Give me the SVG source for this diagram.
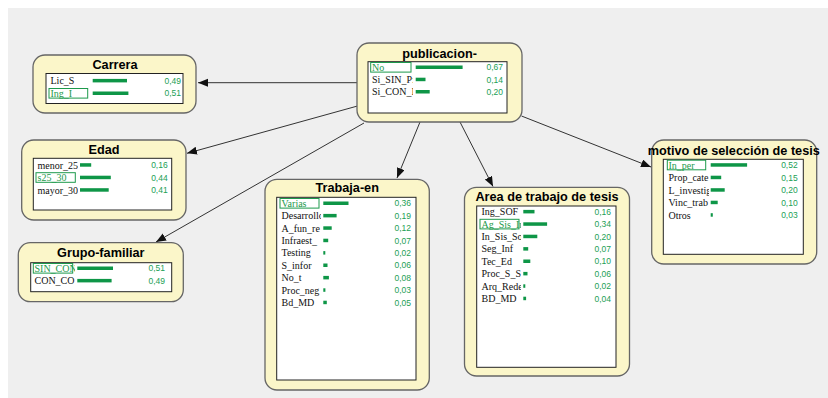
<svg xmlns="http://www.w3.org/2000/svg" width="828" height="398" viewBox="0 0 828 398">
<style>
.node{fill:#fbf6c9;stroke:#666;stroke-width:1.3}
.inner{fill:#fff;stroke:#222;stroke-width:1}
.title{font-family:"Liberation Sans",Arial,sans-serif;font-weight:bold;font-size:12.7px;text-anchor:middle;fill:#000}
.lbl{font-family:"Liberation Serif","Times New Roman",serif;font-size:10px;fill:#111}
.lbl.sel{fill:#1d9a4c}
.selbox{fill:none;stroke:#1d9a4c;stroke-width:1}
.bar{fill:#0e9647}
.val{font-family:"Liberation Sans",Arial,sans-serif;font-size:8.5px;fill:#22a055;text-anchor:end}
.edge{stroke:#333;stroke-width:1;fill:none;marker-end:url(#arr)}
</style>
<defs>
<marker id="arr" markerUnits="userSpaceOnUse" markerWidth="11" markerHeight="9" refX="10" refY="4" orient="auto">
<path d="M0,0 L10,4 L0,8 z" fill="#111"/>
</marker>
<clipPath id="cPub"><rect x="369" y="60" width="44" height="50"/></clipPath>
<clipPath id="cCar"><rect x="47" y="73" width="44" height="30"/></clipPath>
<clipPath id="cEda"><rect x="34" y="158" width="44" height="50"/></clipPath>
<clipPath id="cGru"><rect x="31" y="262" width="44" height="29"/></clipPath>
<clipPath id="cTra"><rect x="278" y="197" width="43" height="180"/></clipPath>
<clipPath id="cAre"><rect x="478" y="206" width="43" height="160"/></clipPath>
<clipPath id="cMot"><rect x="664" y="159" width="45" height="94"/></clipPath>
</defs>
<rect x="0" y="0" width="828" height="398" fill="#fff"/>
<rect x="8" y="8" width="820" height="390" fill="#efefef"/>

<g id="connectors">
<line class="edge" x1="357" y1="82.7" x2="198" y2="82.7"/>
<line class="edge" x1="357.5" y1="106" x2="187" y2="153.3"/>
<line class="edge" x1="364" y1="123" x2="156" y2="242"/>
<line class="edge" x1="420" y1="122" x2="397" y2="178"/>
<line class="edge" x1="460" y1="122" x2="493" y2="186.5"/>
<line class="edge" x1="521.5" y1="116" x2="651" y2="167"/>
</g>

<g id="publicacion">
<rect class="node" x="357" y="43" width="165" height="79" rx="12"/>
<text class="title" x="439.5" y="57.5">publicacion-</text>
<rect class="inner" x="368" y="61.7" width="139" height="51.3"/>
<rect class="selbox" x="370.7" y="62.5" width="40.3" height="9.6"/>
<g clip-path="url(#cPub)">
<text class="lbl sel" x="372" y="70.8">No</text>
<text class="lbl" x="372" y="83">Si_SIN_P:</text>
<text class="lbl" x="372" y="95.3">Si_CON_I</text>
</g>
<rect class="bar" x="415.7" y="65.5" width="46.9" height="3.5"/>
<rect class="bar" x="415.7" y="77.7" width="9.8" height="3.5"/>
<rect class="bar" x="415.7" y="90" width="14" height="3.5"/>
<text class="val" x="503" y="70.3">0,67</text>
<text class="val" x="503" y="82.5">0,14</text>
<text class="val" x="503" y="94.8">0,20</text>
</g>

<g id="carrera">
<rect class="node" x="33" y="55" width="163" height="58" rx="12"/>
<text class="title" x="115" y="68.5">Carrera</text>
<rect class="inner" x="46" y="73.5" width="137" height="30"/>
<rect class="selbox" x="49" y="88.5" width="38.7" height="9.6"/>
<g clip-path="url(#cCar)">
<text class="lbl" x="50.5" y="84.2">Lic_S</text>
<text class="lbl sel" x="50.5" y="96.8">Ing_I</text>
</g>
<rect class="bar" x="92.7" y="78.9" width="34.3" height="3.5"/>
<rect class="bar" x="92.7" y="91.5" width="35.7" height="3.5"/>
<text class="val" x="181" y="83.7">0,49</text>
<text class="val" x="181" y="96.3">0,51</text>
</g>

<g id="edad">
<rect class="node" x="21.7" y="140" width="164.3" height="80" rx="12"/>
<text class="title" x="104" y="153.5">Edad</text>
<rect class="inner" x="33.3" y="158.3" width="138.4" height="51.7"/>
<rect class="selbox" x="36" y="172.7" width="39.3" height="9.6"/>
<g clip-path="url(#cEda)">
<text class="lbl" x="37.5" y="168.5">menor_25</text>
<text class="lbl sel" x="37.5" y="181">s25_30</text>
<text class="lbl" x="37.5" y="193.5">mayor_30</text>
</g>
<rect class="bar" x="80" y="163.2" width="11.2" height="3.5"/>
<rect class="bar" x="80" y="175.7" width="30.8" height="3.5"/>
<rect class="bar" x="80" y="188.2" width="28.7" height="3.5"/>
<text class="val" x="167.7" y="168">0,16</text>
<text class="val" x="167.7" y="180.5">0,44</text>
<text class="val" x="167.7" y="193">0,41</text>
</g>

<g id="grupo-familiar">
<rect class="node" x="18.3" y="242.7" width="165" height="59" rx="12"/>
<text class="title" x="100.8" y="257">Grupo-familiar</text>
<rect class="inner" x="30.7" y="262.7" width="141" height="29"/>
<rect class="selbox" x="33.3" y="263.5" width="39.4" height="9.6"/>
<g clip-path="url(#cGru)">
<text class="lbl sel" x="34.5" y="271.8">SIN_CON</text>
<text class="lbl" x="34.5" y="284.2">CON_CO</text>
</g>
<rect class="bar" x="77.3" y="266.5" width="35.7" height="3.5"/>
<rect class="bar" x="77.3" y="278.9" width="34.3" height="3.5"/>
<text class="val" x="165" y="271.3">0,51</text>
<text class="val" x="165" y="283.7">0,49</text>
</g>

<g id="trabaja-en">
<rect class="node" x="265" y="179.3" width="164.3" height="210.7" rx="12"/>
<text class="title" x="347.2" y="192">Trabaja-en</text>
<rect class="inner" x="276.7" y="197.3" width="139.3" height="182.7"/>
<rect class="selbox" x="280" y="198.5" width="39" height="9.6"/>
<g clip-path="url(#cTra)">
<text class="lbl sel" x="281.5" y="206.8">Varias</text>
<text class="lbl" x="281.5" y="219.2">Desarrollo</text>
<text class="lbl" x="281.5" y="231.6">A_fun_re</text>
<text class="lbl" x="281.5" y="244">Infraest_</text>
<text class="lbl" x="281.5" y="256.4">Testing</text>
<text class="lbl" x="281.5" y="268.8">S_infor</text>
<text class="lbl" x="281.5" y="281.2">No_t</text>
<text class="lbl" x="281.5" y="293.6">Proc_neg</text>
<text class="lbl" x="281.5" y="306">Bd_MD</text>
</g>
<rect class="bar" x="323.3" y="201.5" width="25.2" height="3.5"/>
<rect class="bar" x="323.3" y="213.9" width="13.3" height="3.5"/>
<rect class="bar" x="323.3" y="226.3" width="8.4" height="3.5"/>
<rect class="bar" x="323.3" y="238.7" width="4.9" height="3.5"/>
<rect class="bar" x="323.3" y="251.1" width="2" height="3.5"/>
<rect class="bar" x="323.3" y="263.5" width="4.2" height="3.5"/>
<rect class="bar" x="323.3" y="275.9" width="5.6" height="3.5"/>
<rect class="bar" x="323.3" y="288.3" width="2.1" height="3.5"/>
<rect class="bar" x="323.3" y="300.7" width="3.5" height="3.5"/>
<text class="val" x="411" y="206.3">0,36</text>
<text class="val" x="411" y="218.7">0,19</text>
<text class="val" x="411" y="231.1">0,12</text>
<text class="val" x="411" y="243.5">0,07</text>
<text class="val" x="411" y="255.9">0,02</text>
<text class="val" x="411" y="268.3">0,06</text>
<text class="val" x="411" y="280.7">0,08</text>
<text class="val" x="411" y="293.1">0,03</text>
<text class="val" x="411" y="305.5">0,05</text>
</g>

<g id="area-de-trabajo">
<rect class="node" x="464.5" y="187.3" width="165" height="188.7" rx="12"/>
<text class="title" x="547" y="200.5">Area de trabajo de tesis</text>
<rect class="inner" x="476.7" y="206" width="139.3" height="161.3"/>
<rect class="selbox" x="480" y="219.3" width="39" height="9.6"/>
<g clip-path="url(#cAre)">
<text class="lbl" x="481.5" y="215.2">Ing_SOF</text>
<text class="lbl sel" x="481.5" y="227.6">Ag_Sis_In</text>
<text class="lbl" x="481.5" y="240">In_Sis_So</text>
<text class="lbl" x="481.5" y="252.4">Seg_Inf</text>
<text class="lbl" x="481.5" y="264.8">Tec_Ed</text>
<text class="lbl" x="481.5" y="277.2">Proc_S_S</text>
<text class="lbl" x="481.5" y="289.6">Arq_Rede</text>
<text class="lbl" x="481.5" y="302">BD_MD</text>
</g>
<rect class="bar" x="523.3" y="209.9" width="11.2" height="3.5"/>
<rect class="bar" x="523.3" y="222.3" width="23.8" height="3.5"/>
<rect class="bar" x="523.3" y="234.7" width="14" height="3.5"/>
<rect class="bar" x="523.3" y="247.1" width="4.9" height="3.5"/>
<rect class="bar" x="523.3" y="259.5" width="7" height="3.5"/>
<rect class="bar" x="523.3" y="271.9" width="4.2" height="3.5"/>
<rect class="bar" x="523.3" y="284.3" width="2" height="3.5"/>
<rect class="bar" x="523.3" y="296.7" width="2.8" height="3.5"/>
<text class="val" x="611" y="214.7">0,16</text>
<text class="val" x="611" y="227.1">0,34</text>
<text class="val" x="611" y="239.5">0,20</text>
<text class="val" x="611" y="251.9">0,07</text>
<text class="val" x="611" y="264.3">0,10</text>
<text class="val" x="611" y="276.7">0,06</text>
<text class="val" x="611" y="289.1">0,02</text>
<text class="val" x="611" y="301.5">0,04</text>
</g>

<g id="motivo-de-seleccion">
<rect class="node" x="651.7" y="140" width="165" height="124" rx="12"/>
<text class="title" x="733.8" y="154.5">motivo de selección de tesis</text>
<rect class="inner" x="663.3" y="159.3" width="140" height="95"/>
<rect class="selbox" x="667.3" y="160.2" width="38.4" height="9.6"/>
<g clip-path="url(#cMot)">
<text class="lbl sel" x="668.5" y="168.5">In_per</text>
<text class="lbl" x="668.5" y="181">Prop_cate</text>
<text class="lbl" x="668.5" y="193.5">L_investig</text>
<text class="lbl" x="668.5" y="206">Vinc_trab</text>
<text class="lbl" x="668.5" y="218.5">Otros</text>
</g>
<rect class="bar" x="710.7" y="163.2" width="36.4" height="3.5"/>
<rect class="bar" x="710.7" y="175.7" width="10.5" height="3.5"/>
<rect class="bar" x="710.7" y="188.2" width="14" height="3.5"/>
<rect class="bar" x="710.7" y="200.7" width="7" height="3.5"/>
<rect class="bar" x="710.7" y="213.2" width="2.1" height="3.5"/>
<text class="val" x="797.7" y="168">0,52</text>
<text class="val" x="797.7" y="180.5">0,15</text>
<text class="val" x="797.7" y="193">0,20</text>
<text class="val" x="797.7" y="205.5">0,10</text>
<text class="val" x="797.7" y="218">0,03</text>
</g>
</svg>
